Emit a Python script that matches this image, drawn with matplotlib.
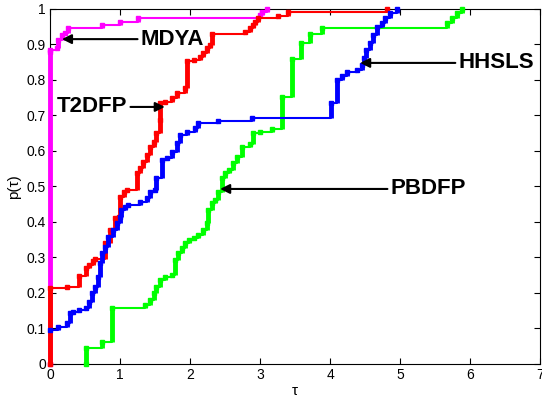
import matplotlib
matplotlib.use("Agg")
import matplotlib.pyplot as plt

plt.rcParams['font.family'] = ['Liberation Sans', 'DejaVu Sans']

# performance profile data: p(tau) jumps to p at tau
mdya_tau = [0, 0, 0.0, 0.10, 0.12, 0.17, 0.21, 0.26, 0.74, 1.00, 1.26, 3.00, 3.03, 3.10]
mdya_p = [0, 0.879, 0.884, 0.889, 0.913, 0.927, 0.932, 0.946, 0.955, 0.962, 0.974, 0.983, 0.99, 1.0]

t2dfp_tau = [0, 0, 0.24, 0.41, 0.52, 0.56, 0.61, 0.64, 0.79, 0.86, 0.93, 0.98, 1.00, 1.05,
             1.10, 1.24, 1.29, 1.33, 1.38, 1.43, 1.48, 1.52, 1.57, 1.57, 1.64, 1.74, 1.81,
             1.93, 1.95, 2.05, 2.14, 2.19, 2.24, 2.29, 2.31, 2.79, 2.86, 2.90, 2.93, 2.97,
             3.26, 3.40, 4.81]
t2dfp_p = [0, 0.213, 0.218, 0.248, 0.27, 0.28, 0.29, 0.295, 0.34, 0.377, 0.41, 0.415, 0.47,
           0.485, 0.49, 0.537, 0.552, 0.57, 0.589, 0.612, 0.626, 0.65, 0.687, 0.735, 0.739,
           0.748, 0.762, 0.776, 0.852, 0.856, 0.865, 0.875, 0.889, 0.899, 0.929, 0.936,
           0.946, 0.955, 0.964, 0.974, 0.98, 0.991, 1.0]

hhsls_tau = [0, 0.12, 0.24, 0.29, 0.33, 0.42, 0.52, 0.55, 0.60, 0.64, 0.68, 0.71, 0.74, 0.79,
             0.83, 0.90, 0.95, 1.00, 1.02, 1.07, 1.12, 1.29, 1.38, 1.43, 1.50, 1.52, 1.60,
             1.67, 1.74, 1.81, 1.86, 1.95, 2.07, 2.12, 2.40, 2.88, 4.01, 4.10, 4.17, 4.24,
             4.38, 4.45, 4.48, 4.52, 4.57, 4.62, 4.67, 4.74, 4.79, 4.86, 4.96]
hhsls_p = [0.097, 0.105, 0.115, 0.143, 0.147, 0.152, 0.157, 0.175, 0.2, 0.218, 0.246, 0.284,
           0.312, 0.33, 0.359, 0.377, 0.396, 0.415, 0.434, 0.441, 0.448, 0.457, 0.467, 0.485,
           0.49, 0.523, 0.575, 0.579, 0.598, 0.622, 0.645, 0.654, 0.664, 0.678, 0.683, 0.692,
           0.735, 0.8, 0.81, 0.823, 0.828, 0.842, 0.861, 0.885, 0.903, 0.927, 0.95, 0.96,
           0.974, 0.988, 1.0]

pbdfp_tau = [0.51, 0.51, 0.74, 0.88, 1.36, 1.43, 1.48, 1.52, 1.57, 1.64, 1.74, 1.79, 1.83,
             1.88, 1.93, 1.98, 2.05, 2.12, 2.19, 2.24, 2.26, 2.31, 2.36, 2.40, 2.45, 2.50,
             2.55, 2.62, 2.67, 2.74, 2.86, 2.90, 3.00, 3.17, 3.31, 3.45, 3.59, 3.71, 3.88,
             5.67, 5.74, 5.81, 5.88]
pbdfp_p = [0, 0.044, 0.063, 0.157, 0.165, 0.18, 0.2, 0.218, 0.237, 0.246, 0.251, 0.293, 0.312,
           0.326, 0.34, 0.349, 0.354, 0.363, 0.377, 0.396, 0.434, 0.453, 0.462, 0.485, 0.523,
           0.537, 0.546, 0.565, 0.584, 0.612, 0.621, 0.65, 0.654, 0.663, 0.753, 0.86, 0.903,
           0.93, 0.945, 0.96, 0.974, 0.988, 1.0]

fig = plt.figure(figsize=(5.42, 4.03), dpi=100)
ax = fig.add_axes([0.0923, 0.0968, 0.904, 0.881])

series = [
    (mdya_tau, mdya_p, '#ff00ff'),
    (pbdfp_tau, pbdfp_p, '#00ff00'),
    (t2dfp_tau, t2dfp_p, '#ff0000'),
    (hhsls_tau, hhsls_p, '#0000ff'),
]
for tau, p, col in series:
    ax.plot(tau, p, color=col, drawstyle='steps-post', lw=1.5, marker='s',
            markersize=3.5, clip_on=False, zorder=3)
    # vertical jumps are covered by stacked markers in the original
    ax.vlines(tau[1:], p[:-1], p[1:], color=col, lw=3.5, clip_on=False, zorder=3)

ax.set_xlim(0, 7)
ax.set_ylim(0, 1)
ax.set_xticks(range(8))
ax.set_yticks([i / 10 for i in range(11)])
ax.set_yticklabels(['0', '0.1', '0.2', '0.3', '0.4', '0.5', '0.6', '0.7', '0.8', '0.9', '1'])
ax.tick_params(direction='in', top=True, right=True, labelsize=10, length=4, pad=3)
ax.set_xlabel('τ', fontsize=11, labelpad=1)
ax.set_ylabel('p(τ)', fontsize=11, labelpad=4)

arrow = dict(arrowstyle='-|>', color='k', lw=1.5, mutation_scale=14, shrinkA=0, shrinkB=0)
lab = dict(fontsize=16, fontweight='bold', va='center')
ax.annotate('MDYA', xy=(0.17, 0.915), xytext=(1.29, 0.915), arrowprops=arrow, ha='left', **lab)
ax.annotate('T2DFP', xy=(1.64, 0.724), xytext=(1.11, 0.724), arrowprops=arrow, ha='right', **lab)
ax.annotate('HHSLS', xy=(4.43, 0.848), xytext=(5.83, 0.848), arrowprops=arrow, ha='left', **lab)
ax.annotate('PBDFP', xy=(2.43, 0.493), xytext=(4.86, 0.493), arrowprops=arrow, ha='left', **lab)

fig.savefig('out.png', dpi=100)
